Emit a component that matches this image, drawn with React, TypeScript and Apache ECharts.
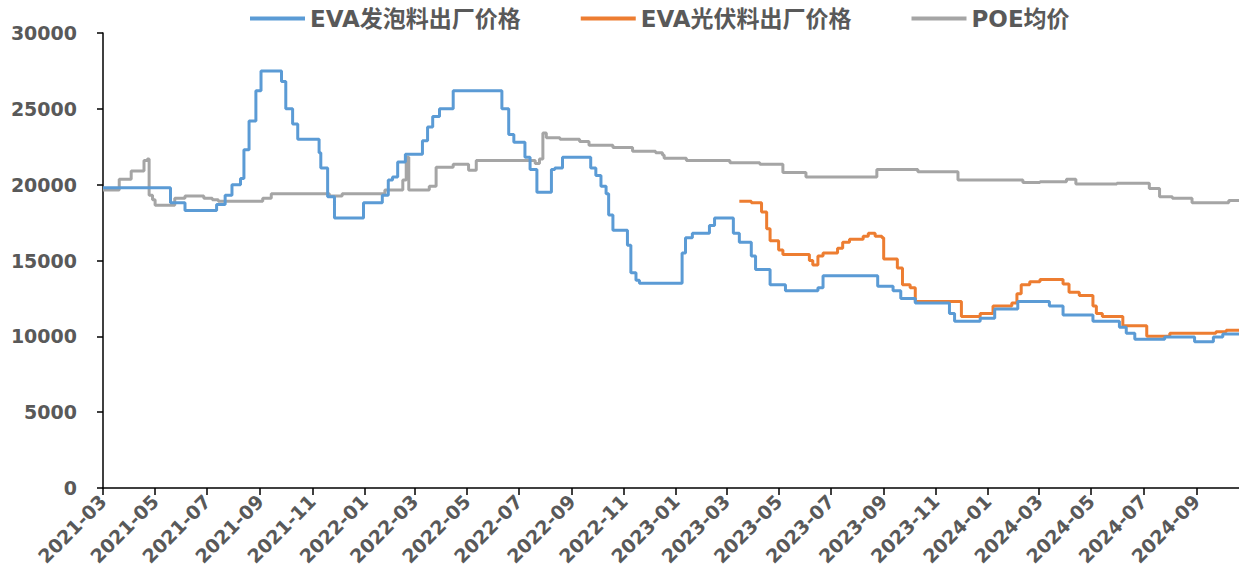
import React, { useEffect, useRef } from "react";
import * as echarts from "echarts";

const START_DATE = "2021-03-01";
const END_DATE = "2024-10-21";

const seriesNames = ["EVA发泡料出厂价格", "EVA光伏料出厂价格", "POE均价"];
const seriesColors = ["#5B9BD5", "#ED7D31", "#A5A5A5"];

const foamDates = [
  "2021-03-01", "2021-05-19", "2021-06-05", "2021-07-12", "2021-07-22", "2021-07-30",
  "2021-08-09", "2021-08-13", "2021-08-19", "2021-08-27", "2021-09-02", "2021-09-26",
  "2021-10-01", "2021-10-09", "2021-10-15", "2021-11-09", "2021-11-11", "2021-11-19",
  "2021-11-27", "2021-12-31", "2022-01-22", "2022-01-29", "2022-02-03", "2022-02-09",
  "2022-02-18", "2022-03-10", "2022-03-16", "2022-03-22", "2022-03-30", "2022-04-15",
  "2022-06-11", "2022-06-19", "2022-06-25", "2022-07-08", "2022-07-14", "2022-07-22",
  "2022-08-08", "2022-08-12", "2022-08-21", "2022-09-23", "2022-09-29", "2022-10-05",
  "2022-10-11", "2022-10-14", "2022-10-19", "2022-11-05", "2022-11-09", "2022-11-15",
  "2022-11-19", "2023-01-08", "2023-01-12", "2023-01-20", "2023-02-09", "2023-02-15",
  "2023-03-09", "2023-03-16", "2023-03-30", "2023-04-04", "2023-04-21", "2023-05-09",
  "2023-06-16", "2023-06-22", "2023-08-25", "2023-09-12", "2023-09-21", "2023-10-08",
  "2023-11-17", "2023-11-23", "2023-12-23", "2024-01-09", "2024-02-05", "2024-03-13",
  "2024-03-29", "2024-05-03", "2024-06-03", "2024-06-11", "2024-06-21", "2024-07-26",
  "2024-08-30", "2024-09-21", "2024-10-02", "2024-10-21",
];
const foamValues = [
  19800, 18800, 18300, 18700, 19300, 20000,
  20400, 22300, 24200, 26200, 27500, 26800,
  25000, 24000, 23000, 22100, 21100, 19200,
  17800, 18800, 19300, 20300, 20500, 21500,
  22000, 22900, 23800, 24500, 25000, 26200,
  25000, 23300, 22800, 21800, 21000, 19500,
  21000, 21100, 21800, 21100, 20600, 19900,
  19400, 18000, 17000, 16000, 14200, 13700,
  13500, 15500, 16500, 16800, 17300, 17800,
  16800, 16200, 15300, 14400, 13400, 13000,
  13200, 14000, 13300, 13000, 12500, 12200,
  11500, 11000, 11200, 11800, 12300, 12000,
  11400, 11000, 10600, 10200, 9800, 9950,
  9650, 9950, 10150, 10200,
];

const pvDates = [
  "2023-03-16", "2023-03-30", "2023-04-11", "2023-04-17", "2023-04-21", "2023-05-01",
  "2023-05-06", "2023-06-06", "2023-06-10", "2023-06-16", "2023-06-22", "2023-07-09",
  "2023-07-15", "2023-07-23", "2023-08-08", "2023-08-14", "2023-08-22", "2023-08-30",
  "2023-09-01", "2023-09-17", "2023-09-23", "2023-10-02", "2023-10-08", "2023-12-01",
  "2023-12-23", "2024-01-07", "2024-01-29", "2024-02-04", "2024-02-09", "2024-02-19",
  "2024-03-02", "2024-03-29", "2024-04-05", "2024-04-17", "2024-05-03", "2024-05-07",
  "2024-05-14", "2024-06-07", "2024-07-05", "2024-08-01", "2024-09-24", "2024-10-06",
  "2024-10-21",
];
const pvValues = [
  18900, 18800, 18200, 17100, 16300, 15700,
  15400, 15000, 14700, 15300, 15500, 15800,
  16200, 16400, 16600, 16800, 16600, 16500,
  15100, 14500, 13400, 13200, 12300, 11300,
  11500, 12000, 12200, 12800, 13400, 13600,
  13750, 13450, 12900, 12700, 12000, 11500,
  11300, 10700, 10000, 10200, 10300, 10400,
  10400,
];

const poeDates = [
  "2021-03-01", "2021-03-20", "2021-04-03", "2021-04-18", "2021-04-22", "2021-04-24",
  "2021-04-28", "2021-05-01", "2021-05-24", "2021-06-05", "2021-06-27", "2021-07-07",
  "2021-07-14", "2021-09-04", "2021-09-14", "2021-11-21", "2021-12-06", "2022-01-25",
  "2022-02-15", "2022-02-19", "2022-02-22", "2022-03-18", "2022-03-26", "2022-04-15",
  "2022-05-03", "2022-05-12", "2022-07-20", "2022-07-25", "2022-07-29", "2022-08-02",
  "2022-08-18", "2022-09-10", "2022-09-21", "2022-10-19", "2022-11-11", "2022-12-08",
  "2022-12-16", "2022-12-18", "2023-01-13", "2023-03-05", "2023-04-09", "2023-05-06",
  "2023-06-02", "2023-08-24", "2023-10-11", "2023-11-27", "2024-02-11", "2024-03-02",
  "2024-04-02", "2024-04-13", "2024-05-31", "2024-07-08", "2024-07-20", "2024-08-04",
  "2024-08-27", "2024-10-09", "2024-10-21",
];
const poeValues = [
  19650, 20350, 20900, 21600, 21700, 19300,
  19000, 18650, 19100, 19250, 19100, 19000,
  18900, 19100, 19400, 19250, 19400, 19650,
  20300, 21800, 19650, 19900, 21150, 21350,
  20950, 21600, 21400, 21700, 23400, 23100,
  23000, 22850, 22600, 22450, 22200, 22100,
  21950, 21750, 21600, 21450, 21350, 20800,
  20500, 21000, 20850, 20300, 20150, 20200,
  20350, 20050, 20100, 19750, 19200, 19100,
  18800, 18950, 18950,
];

const yTicks = { min: 0, max: 30000, interval: 5000 };

function buildDays(start: string, end: string): string[] {
  const toUTC = (s: string) => {
    const [y, m, d] = s.split("-").map(Number);
    return Date.UTC(y, m - 1, d);
  };
  const out: string[] = [];
  const endT = toUTC(end);
  for (let t = toUTC(start); t <= endT; t += 86400000) {
    out.push(new Date(t).toISOString().slice(0, 10));
  }
  return out;
}

const FONT = '"DejaVu Sans", "Noto Sans CJK SC", sans-serif';
const TEXT_COLOR = "#595959";

export default function App() {
  const ref = useRef<HTMLDivElement>(null);

  useEffect(() => {
    if (!ref.current) return;
    const chart = echarts.init(ref.current, undefined, { renderer: "svg" });
    const days = buildDays(START_DATE, END_DATE);
    const idx = new Map<string, number>();
    days.forEach((d, i) => idx.set(d, i));
    const toData = (ds: string[], vs: number[]) =>
      ds.map((d, i) => [idx.get(d) as number, vs[i]]);

    const isTickDay = (_i: number, value: string) => {
      const m = Number(value.slice(5, 7));
      return value.slice(8, 10) === "01" && m % 2 === 1;
    };

    const seriesData = [
      toData(foamDates, foamValues),
      toData(pvDates, pvValues),
      toData(poeDates, poeValues),
    ];

    chart.setOption({
      animation: false,
      backgroundColor: "#ffffff",
      grid: { left: 103, right: 0, top: 33, bottom: 98 },
      legend: {
        top: 2,
        left: 245,
        icon: "rect",
        itemWidth: 55,
        itemHeight: 4,
        itemGap: 60,
        textStyle: {
          fontFamily: FONT,
          fontWeight: "bold",
          fontSize: 23,
          color: TEXT_COLOR,
        },
        data: seriesNames,
      },
      xAxis: {
        type: "category",
        data: days,
        boundaryGap: false,
        axisLine: { lineStyle: { color: "#000000", width: 1.5 } },
        axisTick: {
          interval: isTickDay,
          length: 7,
          lineStyle: { color: "#000000", width: 1.5 },
        },
        axisLabel: {
          interval: isTickDay,
          rotate: 45,
          margin: 10,
          formatter: (v: string) => v.slice(0, 7),
          fontFamily: FONT,
          fontWeight: "bold",
          fontSize: 19,
          color: TEXT_COLOR,
        },
        splitLine: { show: false },
      },
      yAxis: {
        type: "value",
        min: yTicks.min,
        max: yTicks.max,
        interval: yTicks.interval,
        axisLine: { show: true, lineStyle: { color: "#000000", width: 1.5 } },
        axisTick: { show: true, length: 6, lineStyle: { color: "#000000", width: 1.5 } },
        splitLine: { show: false },
        axisLabel: {
          margin: 26,
          formatter: (v: number) => String(v),
          fontFamily: FONT,
          fontWeight: "bold",
          fontSize: 19,
          color: TEXT_COLOR,
        },
      },
      series: seriesNames.map((name, i) => ({
        name,
        type: "line",
        step: "end",
        showSymbol: false,
        symbol: "none",
        data: seriesData[i],
        lineStyle: { color: seriesColors[i], width: 3 },
        itemStyle: { color: seriesColors[i] },
        z: 3 - i,
      })),
    });

    return () => chart.dispose();
  }, []);

  return (
    <div
      ref={ref}
      style={{ position: "fixed", left: 0, top: 0, width: 1239, height: 586 }}
    />
  );
}
